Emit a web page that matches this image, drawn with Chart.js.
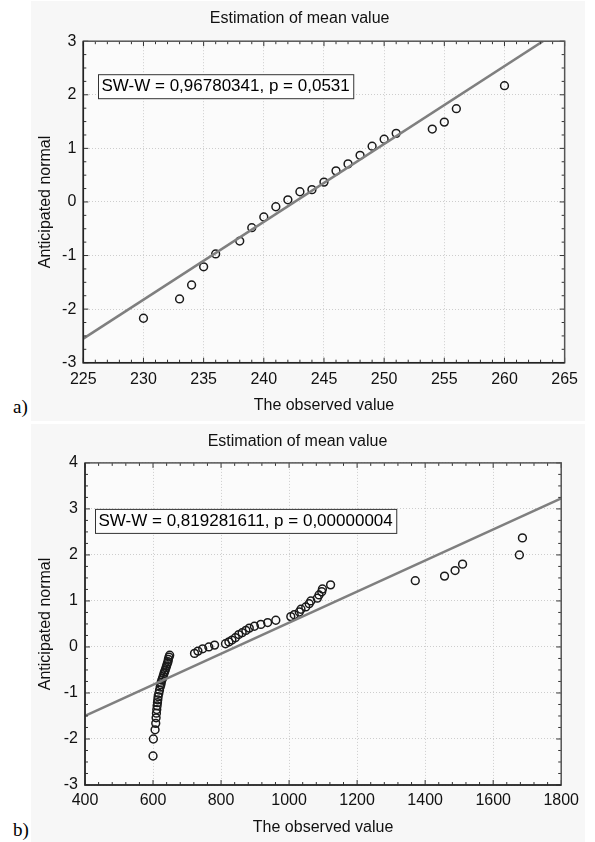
<!DOCTYPE html>
<html>
<head>
<meta charset="utf-8">
<script src="https://cdn.jsdelivr.net/npm/chart.js@4.4.1/dist/chart.umd.min.js"></script>
<style>
  body { margin: 0; background: #fff; width: 595px; height: 842px; position: relative; overflow: hidden; }
  .panel { position: absolute; left: 31px; width: 554px; background: #f7f7f7; }
  .tag { position: absolute; left: 13px; font-family: 'Liberation Serif', 'Times New Roman', serif; font-size: 19px; line-height: 19px; color: #000; }
</style>
</head>
<body>
<div class="panel" style="top:1px;height:420px"><canvas id="chartA" width="554" height="420"></canvas></div>
<div class="panel" style="top:424px;height:418px"><canvas id="chartB" width="554" height="418"></canvas></div>
<div class="tag" style="top:397px">a)</div>
<div class="tag" style="top:820px">b)</div>
<script>
// ---- dados do gráfico a) ----
const xTicksA = [225, 230, 235, 240, 245, 250, 255, 260, 265];
const yTicksA = [-3, -2, -1, 0, 1, 2, 3];
const obsA = [230, 233, 234, 235, 236, 238, 239, 240, 241, 242, 243, 244, 245, 246, 247, 248, 249, 250, 251, 254, 255, 256, 260];
const normA = [-2.17, -1.81, -1.55, -1.21, -0.97, -0.73, -0.48, -0.28, -0.09, 0.04, 0.19, 0.23, 0.37, 0.58, 0.71, 0.87, 1.04, 1.17, 1.28, 1.36, 1.49, 1.74, 2.17];
const fitXA = [225, 263.2];
const fitYA = [-2.55, 3];
const textA = 'SW-W = 0,96780341, p = 0,0531';

// ---- dados do gráfico b) ----
const xTicksB = [400, 600, 800, 1000, 1200, 1400, 1600, 1800];
const yTicksB = [-3, -2, -1, 0, 1, 2, 3, 4];
const obsB = [600, 601, 606, 608, 609, 610, 611, 612, 613, 614, 615, 617, 619, 621, 623, 624, 626, 628, 630, 632,
  634, 636, 638, 640, 642, 644, 645, 647, 649, 722, 732, 746, 764, 781, 813, 823, 832, 842, 852, 862,
  873, 883, 898, 917, 937, 961, 1005, 1015, 1030, 1035, 1049, 1059, 1064, 1083, 1088, 1096, 1098, 1122,
  1371, 1457, 1488, 1510, 1677, 1686];
const normB = [-2.37, -2.0, -1.80, -1.66, -1.54, -1.44, -1.36, -1.28, -1.21, -1.15, -1.08, -1.01, -0.94, -0.87, -0.82, -0.77, -0.72, -0.68, -0.63, -0.58,
  -0.54, -0.50, -0.45, -0.41, -0.36, -0.32, -0.27, -0.22, -0.18, -0.14, -0.09, -0.04, 0.0, 0.04, 0.07, 0.11, 0.15, 0.20, 0.27, 0.31,
  0.36, 0.41, 0.45, 0.49, 0.53, 0.58, 0.66, 0.70, 0.76, 0.82, 0.87, 0.94, 1.0, 1.06, 1.13, 1.20, 1.26, 1.35,
  1.44, 1.54, 1.66, 1.80, 2.0, 2.37];
const fitXB = [400, 1800];
const fitYB = [-1.5, 3.23];
const textB = 'SW-W = 0,819281611, p = 0,00000004';

Chart.defaults.font.family = "'Liberation Sans', Arial, sans-serif";
Chart.defaults.font.size = 16;
Chart.defaults.color = '#111';

// moldura com marcas internas (principais e secundárias) e fundo da área
const framePlugin = {
  id: 'frame',
  beforeDraw(chart) {
    const { ctx, chartArea: a } = chart;
    ctx.save();
    ctx.fillStyle = '#fbfbfb';
    ctx.fillRect(a.left, a.top, a.right - a.left, a.bottom - a.top);
    ctx.restore();
  },
  afterDraw(chart, args, opts) {
    const { ctx, chartArea: a, scales } = chart;
    ctx.save();
    ctx.strokeStyle = '#333';
    ctx.lineWidth = 1;
    const marks = (scale, sub, horiz) => {
      const vals = scale.ticks.map(t => t.value);
      const step = vals[1] - vals[0];
      vals.forEach((v0, i) => {
        for (let j = 0; j < sub; j++) {
          if (i === vals.length - 1 && j > 0) break;
          const p = scale.getPixelForValue(v0 + j * step / sub);
          const len = j === 0 ? 5 : 3;
          ctx.beginPath();
          if (horiz) {
            ctx.moveTo(p, a.bottom); ctx.lineTo(p, a.bottom - len);
            ctx.moveTo(p, a.top); ctx.lineTo(p, a.top + len);
          } else {
            ctx.moveTo(a.left, p); ctx.lineTo(a.left + len, p);
            ctx.moveTo(a.right, p); ctx.lineTo(a.right - len, p);
          }
          ctx.stroke();
        }
      });
    };
    marks(scales.x, opts.subX, true);
    marks(scales.y, opts.subY, false);
    ctx.lineWidth = 1.5;
    ctx.strokeStyle = '#555';
    ctx.strokeRect(a.left, a.top, a.right - a.left, a.bottom - a.top);
    ctx.strokeStyle = '#222';
    ctx.beginPath();
    ctx.moveTo(a.left, a.top); ctx.lineTo(a.left, a.bottom); ctx.lineTo(a.right, a.bottom);
    ctx.stroke();

    // caixa com o resultado do teste
    ctx.font = "17px 'Liberation Sans', Arial, sans-serif";
    const w = ctx.measureText(opts.text).width + 7;
    const bx = a.left + opts.dx, by = a.top + opts.dy;
    ctx.fillStyle = '#fdfdfd';
    ctx.fillRect(bx, by, w, 24);
    ctx.lineWidth = 1;
    ctx.strokeStyle = '#333';
    ctx.strokeRect(bx + 0.5, by + 0.5, w, 24);
    ctx.fillStyle = '#000';
    ctx.textBaseline = 'middle';
    ctx.fillText(opts.text, bx + 3.5, by + 12.5);
    ctx.restore();
  }
};

function makeChart(id, cfg) {
  const pts = cfg.obs.map((v, i) => ({ x: v, y: cfg.norm[i] }));
  const fit = cfg.fitX.map((v, i) => ({ x: v, y: cfg.fitY[i] }));
  return new Chart(document.getElementById(id), {
    type: 'scatter',
    data: {
      datasets: [{
        type: 'line',
        data: fit,
        borderColor: '#7f7f7f',
        borderWidth: 2.5,
        pointRadius: 0,
        fill: false
      }, {
        data: pts,
        pointRadius: 3.9,
        pointBorderWidth: 1.5,
        pointBorderColor: '#1a1a1a',
        pointBackgroundColor: 'rgba(0,0,0,0)'
      }]
    },
    options: {
      responsive: false,
      animation: false,
      layout: { padding: { top: 0, left: 0, right: cfg.padRight, bottom: 0 } },
      plugins: {
        legend: { display: false },
        tooltip: { enabled: false },
        title: {
          display: true,
          text: 'Estimation of mean value',
          color: '#111',
          font: { size: 16, weight: 'normal' },
          padding: { top: 8, bottom: cfg.titleGap }
        },
        frame: { subX: 5, subY: 4, text: cfg.text, dx: cfg.boxDx, dy: cfg.boxDy }
      },
      scales: {
        x: {
          type: 'linear',
          min: cfg.xTicks[0],
          max: cfg.xTicks[cfg.xTicks.length - 1],
          afterBuildTicks: s => { s.ticks = cfg.xTicks.map(v => ({ value: v })); },
          afterFit: s => { s.height = cfg.xHeight; },
          ticks: { padding: cfg.xPad, maxRotation: 0, autoSkip: false, color: '#111', callback: v => String(v) },
          grid: { color: '#cdcdcd', lineWidth: 1, drawTicks: false },
          border: { display: false, dash: [1, 2] },
          title: { display: true, text: 'The observed value', color: '#111', padding: { top: 0, bottom: cfg.xTitlePad } }
        },
        y: {
          type: 'linear',
          min: cfg.yTicks[0],
          max: cfg.yTicks[cfg.yTicks.length - 1],
          afterBuildTicks: s => { s.ticks = cfg.yTicks.map(v => ({ value: v })); },
          afterFit: s => { s.width = cfg.yWidth; },
          ticks: { padding: 7, color: '#111', callback: v => String(v) },
          grid: { color: '#cdcdcd', lineWidth: 1, drawTicks: false },
          border: { display: false, dash: [1, 2] },
          title: { display: true, text: 'Anticipated normal', color: '#111', padding: { top: 5, bottom: 0 } }
        }
      }
    },
    plugins: [framePlugin]
  });
}

makeChart('chartA', {
  obs: obsA, norm: normA, fitX: fitXA, fitY: fitYA, xTicks: xTicksA, yTicks: yTicksA, text: textA,
  padRight: 16.7, titleGap: 13, xHeight: 58.3, xPad: 7, xTitlePad: 5.4, yWidth: 52.3, boxDx: 14.7, boxDy: 33
});

makeChart('chartB', {
  obs: obsB, norm: normB, fitX: fitXB, fitY: fitYB, xTicks: xTicksB, yTicks: yTicksB, text: textB,
  padRight: 21, titleGap: 11.7, xHeight: 57, xPad: 6, xTitlePad: 4.4, yWidth: 54, boxDx: 10, boxDy: 46
});
</script>
</body>
</html>
